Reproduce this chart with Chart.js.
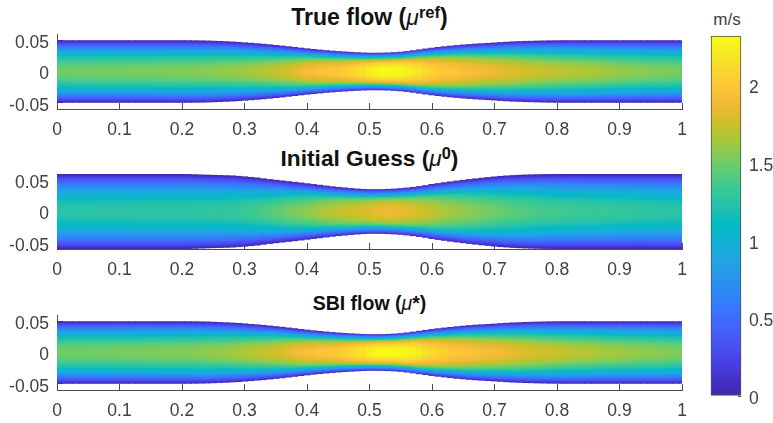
<!DOCTYPE html>
<html>
<head>
<meta charset="utf-8">
<script src="https://cdn.jsdelivr.net/npm/chart.js@4"></script>
<style>
    html, body { margin: 0; background: #fff; overflow: hidden; }
    body { position: relative; width: 773px; height: 423px; font-family: "Liberation Sans", Arial, sans-serif; color: #404040; }
    canvas { position: absolute; left: 0; }
    .title { position: absolute; left: 57px; width: 625px; text-align: center; font-weight: bold; color: #111; white-space: nowrap; line-height: 24px; }
    .title i { font-weight: normal; }
    .title sup { font-size: 72%; line-height: 0; vertical-align: 0.42em; }
    #unit { position: absolute; left: 711px; top: 10px; width: 32px; text-align: center; font-size: 17px; line-height: 20px; }
</style>
</head>
<body>
<div class="title" style="top:5px;font-size:23px">True flow (<i>μ</i><sup>ref</sup>)</div>
<div class="title" style="top:146px;font-size:22.7px">Initial Guess (<i>μ</i><sup>0</sup>)</div>
<div class="title" style="top:291px;font-size:19.5px">SBI flow (<i>μ</i>*)</div>
<div id="unit">m/s</div>
<canvas id="flow1" width="700" height="115" style="top:24px"></canvas>
<canvas id="flow2" width="700" height="115" style="top:164px"></canvas>
<canvas id="flow3" width="700" height="115" style="top:305px"></canvas>
<canvas id="colorbar" width="73" height="400" style="left:700px;top:16px"></canvas>
<script>
const stations = [0,.01,.02,.03,.04,.05,.06,.07,.08,.09,.1,.11,.12,.13,.14,.15,.16,.17,.18,.19,.2,.21,.22,.23,.24,.25,.26,.27,.28,.29,.3,.31,.32,.33,.34,.35,.36,.37,.38,.39,.4,.41,.42,.43,.44,.45,.46,.47,.48,.49,.5,.51,.52,.53,.54,.55,.56,.57,.58,.59,.6,.61,.62,.63,.64,.65,.66,.67,.68,.69,.7,.71,.72,.73,.74,.75,.76,.77,.78,.79,.8,.81,.82,.83,.84,.85,.86,.87,.88,.89,.9,.91,.92,.93,.94,.95,.96,.97,.98,.99,1];
const xTicks = [0,.1,.2,.3,.4,.5,.6,.7,.8,.9,1];
const yTicks = [-.05,0,.05];
const barTicks = [0,.5,1,1.5,2];
const barRange = [0,2.32];

// half height of the vessel at every station
const wallTrue = [.05,.05,.05,.05,.05,.05,.05,.05,.05,.05,.05,.05,.05,.05,.05,.05,.05,.05,.05,.05,.05,
    .05,.0499,.0497,.0495,.0492,.0488,.0484,.0479,.0473,.0466,.0459,.0451,.0443,.0434,.0424,.0414,.0403,.0392,.0381,.037,.036,.035,.0341,.0333,.0326,.0319,.0313,.0308,.0303,.03,
    .03,.0301,.0304,.0309,.0316,.0326,.0339,.0353,.0367,.038,.0392,.0403,.0413,.0422,.0431,.0438,.0445,.0451,.0457,.0463,.047,.0476,.0481,.0485,.0489,.0491,.0494,.0496,.0498,
    .0499,.05,.05,.05,.05,.05,.05,.05,.05,.05,.05,.05,.05,.05,.05,.05,.05,.05,.05,.05,.05];
const wallInit = [.06,.06,.06,.06,.06,.06,.06,.06,.06,.06,.06,.06,.06,.06,.06,.06,.06,.06,.06,.06,.06,
    .0599,.0596,.0592,.0589,.0586,.0583,.058,.0577,.057,.0562,.0553,.0544,.053,.0518,.0507,.0496,.0485,.0474,.0463,.0451,.0439,.0427,.0415,.0403,.0393,.0384,.0375,.0367,.0361,.0357,
    .0356,.0358,.0361,.0366,.0373,.0382,.0393,.0406,.042,.044,.0454,.0468,.0481,.0494,.0506,.0518,.0529,.054,.055,.056,.0569,.0576,.0582,.0587,.0591,.0594,.0596,.0598,.0599,
    .06,.06,.06,.06,.06,.06,.06,.06,.06,.06,.06,.06,.06,.06,.06,.06,.06,.06,.06,.06,.06];
const wallSbi = [.05,.05,.05,.05,.05,.05,.05,.05,.05,.05,.05,.05,.05,.05,.05,.05,.05,.05,.05,.05,.05,
    .05,.0499,.0497,.0495,.0491,.0487,.0483,.0478,.0472,.0465,.0457,.0449,.0441,.0431,.0421,.0411,.0399,.0388,.0376,.0365,.0354,.0344,.0335,.0327,.0319,.0312,.0306,.0301,.0296,.0293,
    .0293,.0294,.0297,.0302,.0309,.032,.0333,.0347,.0361,.0375,.0387,.0398,.0409,.0419,.0428,.0437,.0444,.045,.0456,.0462,.0469,.0475,.048,.0484,.0488,.0491,.0494,.0496,.0498,
    .0499,.05,.05,.05,.05,.05,.05,.05,.05,.05,.05,.05,.05,.05,.05,.05,.05,.05,.05,.05,.05];

// centre line speed at every station, m/s
const speedTrue = [1.5,1.5,1.5,1.51,1.51,1.51,1.51,1.52,1.52,1.52,
    1.52,1.52,1.53,1.53,1.53,1.53,1.54,1.54,1.54,1.55,
    1.55,1.55,1.56,1.56,1.57,1.58,1.59,1.6,1.61,1.62,
    1.63,1.65,1.67,1.69,1.71,1.74,1.76,1.79,1.83,1.88,
    1.93,1.95,1.97,1.99,2,2.02,2.05,2.09,2.13,2.18,
    2.25,2.29,2.32,2.32,2.32,2.3,2.27,2.23,2.18,2.13,
    2.09,2.06,2.03,2.01,1.99,1.97,1.95,1.93,1.91,1.89,
    1.88,1.86,1.84,1.82,1.8,1.78,1.77,1.76,1.74,1.73,
    1.72,1.71,1.7,1.69,1.68,1.67,1.66,1.65,1.63,1.62,
    1.6,1.59,1.58,1.57,1.57,1.56,1.55,1.55,1.54,1.53,1.53];
const speedInit = [1.25,1.25,1.25,1.25,1.25,1.25,1.26,1.26,1.26,1.26,
    1.26,1.26,1.26,1.27,1.27,1.27,1.27,1.27,1.27,1.27,
    1.27,1.27,1.28,1.28,1.28,1.29,1.29,1.3,1.3,1.31,
    1.33,1.35,1.37,1.39,1.42,1.45,1.48,1.51,1.53,1.56,
    1.58,1.61,1.64,1.67,1.7,1.72,1.74,1.76,1.78,1.8,
    1.82,1.85,1.87,1.88,1.88,1.86,1.84,1.81,1.78,1.75,
    1.72,1.69,1.66,1.64,1.62,1.6,1.58,1.56,1.54,1.52,
    1.5,1.48,1.46,1.44,1.43,1.42,1.4,1.39,1.38,1.37,
    1.36,1.35,1.35,1.34,1.34,1.33,1.33,1.32,1.32,1.31,
    1.3,1.3,1.29,1.29,1.28,1.28,1.27,1.27,1.26,1.26,1.25];
const speedSbi = [1.5,1.5,1.51,1.51,1.51,1.51,1.52,1.52,1.52,1.52,
    1.53,1.53,1.53,1.53,1.54,1.54,1.54,1.55,1.55,1.55,
    1.56,1.56,1.57,1.58,1.59,1.6,1.61,1.62,1.64,1.66,
    1.68,1.7,1.72,1.74,1.76,1.79,1.82,1.85,1.89,1.92,
    1.95,1.97,1.99,2,2.02,2.05,2.08,2.12,2.16,2.2,
    2.26,2.3,2.32,2.32,2.32,2.32,2.3,2.27,2.23,2.17,
    2.13,2.1,2.07,2.04,2.02,2,1.98,1.96,1.94,1.93,
    1.92,1.9,1.88,1.86,1.84,1.82,1.8,1.79,1.77,1.76,
    1.75,1.74,1.72,1.71,1.7,1.69,1.68,1.66,1.65,1.64,
    1.63,1.62,1.61,1.6,1.59,1.58,1.58,1.57,1.56,1.55,1.55];

// how far the cross section has gone from the rounded profile to the blunt one
const bluntness = [0,0,0,0,0,0,0,0,0,0,0,0,0,0,0,0,0,0,0,0,0,0,0,0,0,0,0,0,0,0,
    .03,.06,.09,.14,.19,.24,.3,.36,.42,.48,.54,.6,.68,.74,.8,.86,.92,.96,1,1,
    1,1,1,1,1,1,1,1,1,.96,.9,.84,.78,.72,.66,.6,.54,.48,.42,.36,.3,.27,.24,.21,.18,.15,.12,.09,.06,.03,
    0,0,0,0,0,0,0,0,0,0,0,0,0,0,0,0,0,0,0,0,0];
// share of the centre speed at 0, 0.1 ... 1 of the way to the wall
const roundProfile = [1,.99,.96,.91,.84,.75,.64,.51,.36,.19,0];
const bluntProfile = [1,.995,.98,.95,.91,.85,.75,.57,.38,.2,0];

const parula = ["#3e26a8","#4332cb","#4741e5","#4852f4","#4563fd","#3875fe","#2e87f7","#2797eb","#20a5e3","#12b1d6","#02bac3","#24c1ae","#37c897","#57cc7a","#81cc59","#abc739","#d1bf27","#f0ba36","#fec338","#fad62d","#f5e924","#f9fb15"];

const axisColor = "#4d4d4d";
const textColor = "#404040";
const tickFont = {family: "'Liberation Sans', Arial, sans-serif", size: 17.5};
const gradientSteps = 48;

Chart.defaults.animation = false;
Chart.defaults.responsive = false;

const parulaRgb = parula.map(hex => [1, 3, 5].map(i => parseInt(hex.substr(i, 2), 16)));

function speedColor(speed) {
    const pos = Math.min(Math.max(speed / barRange[1], 0), 1) * (parulaRgb.length - 1);
    const low = Math.min(Math.floor(pos), parulaRgb.length - 2);
    const t = pos - low;
    const rgb = parulaRgb[low].map((c, i) => Math.round(c + (parulaRgb[low + 1][i] - c) * t));
    return `rgb(${rgb[0]},${rgb[1]},${rgb[2]})`;
}

function profileAt(profile, r) {
    const pos = r * (profile.length - 1);
    const low = Math.min(Math.floor(pos), profile.length - 2);
    return profile[low] + (profile[low + 1] - profile[low]) * (pos - low);
}

function flowGradient(context, walls, speeds) {
    const {chart, dataIndex} = context;
    if (!chart.chartArea || dataIndex === undefined) return "#000";
    const y = chart.scales.y;
    const gradient = chart.ctx.createLinearGradient(0, y.getPixelForValue(walls[dataIndex]), 0, y.getPixelForValue(-walls[dataIndex]));
    const blunt = bluntness[dataIndex];
    for (let s = 0; s <= gradientSteps; s++) {
        const r = Math.abs(s / gradientSteps * 2 - 1);
        const share = profileAt(roundProfile, r) * (1 - blunt) + profileAt(bluntProfile, r) * blunt;
        gradient.addColorStop(s / gradientSteps, speedColor(speeds[dataIndex] * share));
    }
    return gradient;
}

function flowChart(id, walls, speeds) {
    return new Chart(document.getElementById(id), {
        type: "bar",
        data: {
            datasets: [{
                data: stations.map((x, i) => ({x: x, y: [-walls[i], walls[i]]})),
                backgroundColor: context => flowGradient(context, walls, speeds),
                borderWidth: 0,
                barPercentage: 1.15,
                categoryPercentage: 1,
                grouped: false
            }]
        },
        options: {
            layout: {padding: {top: 10, right: 18, left: 0, bottom: 0}},
            plugins: {legend: {display: false}, tooltip: {enabled: false}},
            scales: {
                x: {
                    type: "linear",
                    offset: false,
                    min: 0,
                    max: 1,
                    afterBuildTicks: scale => { scale.ticks = xTicks.map(value => ({value})); },
                    afterFit: scale => { scale.height = 30; scale.paddingLeft = 0; scale.paddingRight = 0; },
                    grid: {offset: false, drawOnChartArea: false, tickLength: -6, color: axisColor},
                    border: {color: axisColor},
                    ticks: {font: tickFont, color: textColor, padding: 17, maxRotation: 0, callback: value => String(value)}
                },
                y: {
                    min: -.06,
                    max: .06,
                    afterBuildTicks: scale => { scale.ticks = yTicks.map(value => ({value})); },
                    afterFit: scale => { scale.width = 57; scale.paddingTop = 0; scale.paddingBottom = 0; },
                    grid: {drawOnChartArea: false, tickLength: -6, color: axisColor},
                    border: {color: axisColor},
                    ticks: {font: tickFont, color: textColor, padding: 14, labelOffset: 3, callback: value => String(value)}
                }
            }
        }
    });
}

flowChart("flow1", wallTrue, speedTrue);
flowChart("flow2", wallInit, speedInit);
flowChart("flow3", wallSbi, speedSbi);

function barGradient(context) {
    const {chart} = context;
    if (!chart.chartArea) return "#000";
    const y = chart.scales.y;
    const gradient = chart.ctx.createLinearGradient(0, y.getPixelForValue(barRange[0]), 0, y.getPixelForValue(barRange[1]));
    parula.forEach((color, i) => gradient.addColorStop(i / (parula.length - 1), color));
    return gradient;
}

new Chart(document.getElementById("colorbar"), {
    type: "bar",
    data: {
        labels: ["m/s"],
        datasets: [{
            data: [barRange],
            backgroundColor: barGradient,
            borderColor: axisColor,
            borderWidth: 1,
            borderSkipped: false,
            barPercentage: 1,
            categoryPercentage: 1,
            clip: false
        }]
    },
    options: {
        layout: {padding: {top: 20, left: 11, right: 0, bottom: 20}},
        plugins: {legend: {display: false}, tooltip: {enabled: false}},
        scales: {
            x: {display: false},
            y: {
                position: "right",
                min: barRange[0],
                max: barRange[1],
                afterBuildTicks: scale => { scale.ticks = barTicks.map(value => ({value})); },
                afterFit: scale => { scale.width = 32; scale.paddingTop = 0; scale.paddingBottom = 0; },
                grid: {drawOnChartArea: false, tickLength: -3, color: axisColor},
                border: {display: false},
                ticks: {font: tickFont, color: textColor, padding: 11, labelOffset: 3, callback: value => String(value)}
            }
        }
    }
});
</script>
</body>
</html>
